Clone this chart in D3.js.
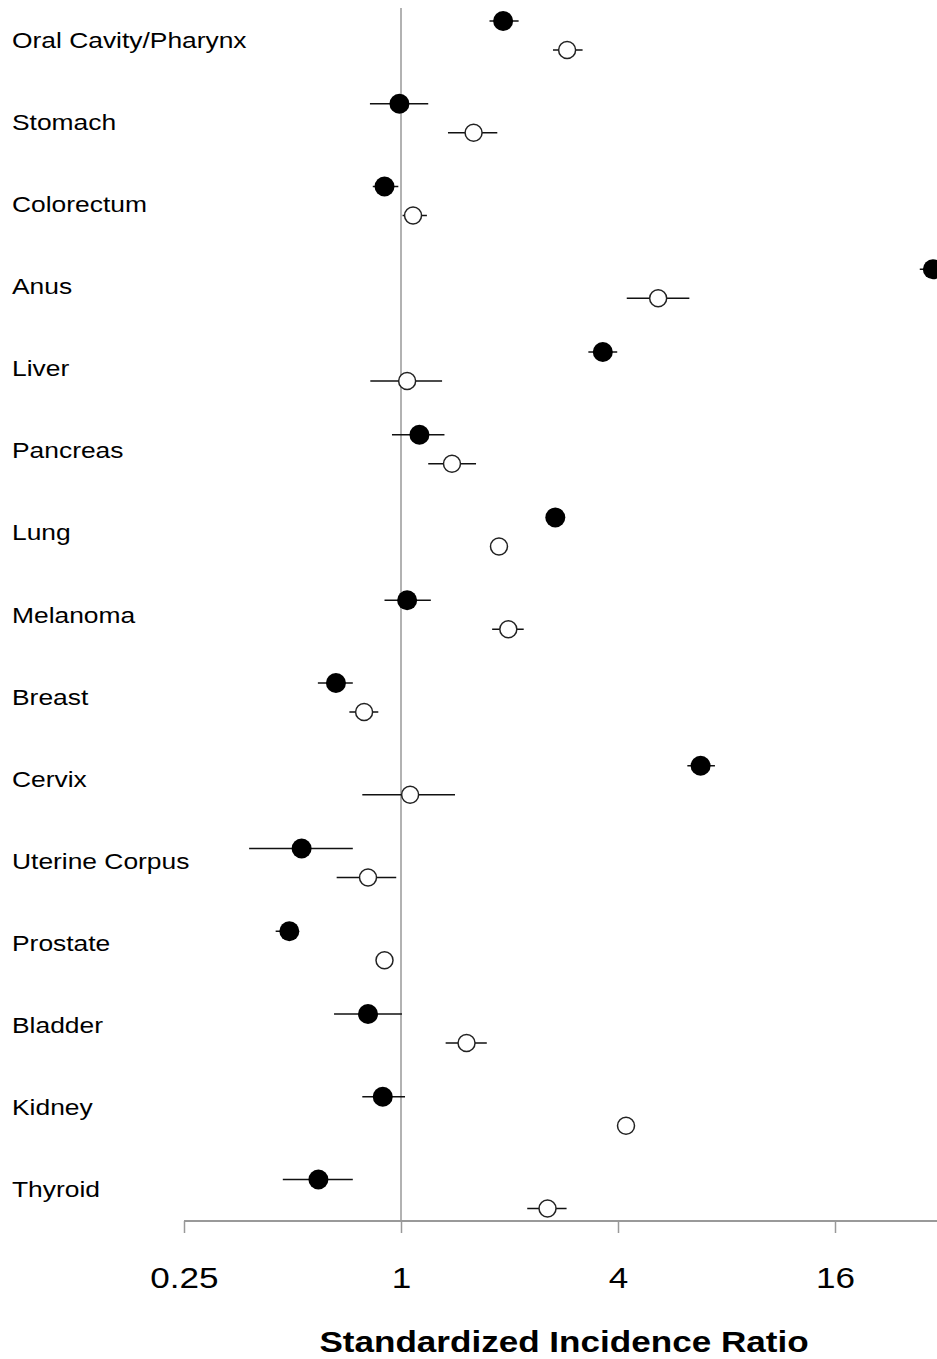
<!DOCTYPE html>
<html>
<head>
<meta charset="utf-8">
<script src="https://cdn.jsdelivr.net/npm/d3@7"></script>
<style>
  body { margin: 0; background: #fff; }
  text { font-family: "Liberation Sans", Arial, sans-serif; fill: #000; }
</style>
</head>
<body>
<script>
// cancer sites, top to bottom
var sites = ['Oral Cavity/Pharynx', 'Stomach', 'Colorectum', 'Anus', 'Liver', 'Pancreas',
  'Lung', 'Melanoma', 'Breast', 'Cervix', 'Uterine Corpus', 'Prostate', 'Bladder', 'Kidney', 'Thyroid']

// filled dots (upper point of each row): SIR, lower CI, upper CI
var filledSir = [1.92, 0.99, 0.90, 29.9, 3.63, 1.125, 2.68, 1.04, 0.66, 6.78, 0.53, 0.49, 0.81, 0.89, 0.59]
var filledLo  = [1.76, 0.82, 0.835, 27.5, 3.31, 0.944, 2.60, 0.90, 0.588, 6.23, 0.379, 0.449, 0.652, 0.781, 0.47]
var filledHi  = [2.12, 1.19, 0.983, 32.5, 3.98, 1.32, 2.76, 1.21, 0.735, 7.43, 0.735, 0.52, 1.006, 1.026, 0.735]

// open dots (lower point of each row)
var openSir = [2.89, 1.59, 1.08, 5.17, 1.04, 1.385, 1.87, 1.985, 0.79, 1.06, 0.81, 0.90, 1.52, 4.21, 2.55]
var openLo  = [2.64, 1.35, 1.01, 4.23, 0.822, 1.19, 1.82, 1.79, 0.719, 0.781, 0.663, 0.88, 1.33, 4.12, 2.24]
var openHi  = [3.19, 1.85, 1.18, 6.31, 1.30, 1.615, 1.93, 2.19, 0.865, 1.412, 0.97, 0.92, 1.73, 4.30, 2.88]

var tickVals = [0.25, 1, 4, 16]
var xTitle = 'Standardized Incidence Ratio'

var W = 937, H = 1359
var stretch = 1.17  // text in the original is a bit wider than plain Arial

var svg = d3.select('body').append('svg')
  .attr('width', W)
  .attr('height', H)

var x = d3.scaleLog().base(2).domain([0.25, 16]).range([184, 835])
var y = d3.scalePoint().domain(sites).range([35.5, 1194])
var yLab = y.copy().range([48, 1197])  // label baselines run on a slightly tighter spacing
var off = 14.5
var axisY = 1221

// reference line at SIR = 1
svg.append('line')
  .attr('x1', x(1)).attr('x2', x(1))
  .attr('y1', 8).attr('y2', axisY)
  .attr('stroke', '#999').attr('stroke-width', 1.5)

// site labels
svg.append('g').selectAll('text')
  .data(sites)
  .enter().append('text')
    .attr('transform', d => `translate(12,${yLab(d)}) scale(1.2,1)`)
    .style('font-size', '22px')
    .text(d => d)

// build rows for both series
var rows = []
sites.forEach((s, i) => {
  rows.push({site: s, v: filledSir[i], lo: filledLo[i], hi: filledHi[i], dy: -off, open: false})
  rows.push({site: s, v: openSir[i], lo: openLo[i], hi: openHi[i], dy: off, open: true})
})

var marks = svg.append('g')

// confidence intervals
marks.selectAll('line.ci')
  .data(rows)
  .enter().append('line')
    .attr('class', 'ci')
    .attr('x1', d => x(d.lo))
    .attr('x2', d => x(d.hi))
    .attr('y1', d => y(d.site) + d.dy)
    .attr('y2', d => y(d.site) + d.dy)
    .attr('stroke', '#111')
    .attr('stroke-width', 1.5)

// points
marks.selectAll('circle')
  .data(rows)
  .enter().append('circle')
    .attr('cx', d => x(d.v))
    .attr('cy', d => y(d.site) + d.dy)
    .attr('r', d => d.open ? 8.5 : 10)
    .attr('fill', d => d.open ? '#fff' : '#000')
    .attr('stroke', d => d.open ? '#222' : 'none')
    .attr('stroke-width', 1.5)

// x axis
var axis = svg.append('g')
  .attr('transform', `translate(0,${axisY})`)
  .call(d3.axisBottom(x).tickValues(tickVals).tickFormat(d3.format('')).tickSize(12).tickSizeOuter(0))

axis.select('.domain').remove()
axis.append('line')
  .attr('x1', x(0.25)).attr('x2', W)
  .attr('stroke', '#999').attr('stroke-width', 2)
axis.selectAll('.tick line').attr('stroke', '#999').attr('stroke-width', 1.5)
axis.selectAll('.tick text')
  .attr('y', 0)
  .attr('dy', 0)
  .attr('transform', `translate(0,67) scale(${stretch},1)`)
  .style('font-size', '30px')
  .style('font-family', '"Liberation Sans", Arial, sans-serif')
  .attr('fill', '#000')

// axis title
svg.append('text')
  .attr('transform', `translate(564,1352) scale(${stretch},1)`)
  .attr('text-anchor', 'middle')
  .style('font-size', '30px')
  .style('font-weight', 'bold')
  .text(xTitle)
</script>
</body>
</html>
